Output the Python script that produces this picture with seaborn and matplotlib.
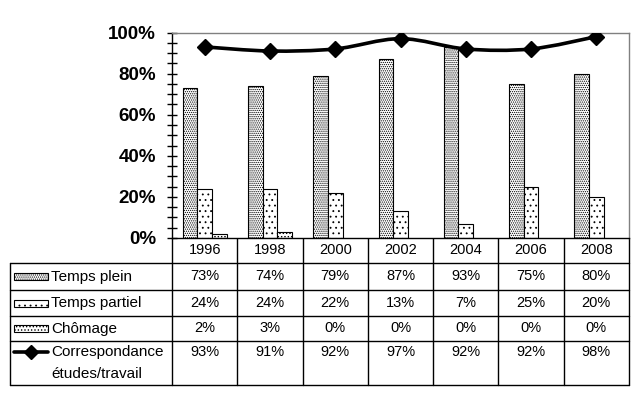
import numpy as np
import pandas as pd
import matplotlib
matplotlib.use("Agg")
import matplotlib.pyplot as plt
from matplotlib.path import Path
from matplotlib.patches import PathPatch, Rectangle
import seaborn as sns

# ============================================================================
# DATA
# ============================================================================

years = ["1996", "1998", "2000", "2002", "2004", "2006", "2008"]
temps_plein = [73, 74, 79, 87, 93, 75, 80]
temps_partiel = [24, 24, 22, 13, 7, 25, 20]
chomage = [2, 3, 0, 0, 0, 0, 0]
correspondance = [93, 91, 92, 97, 92, 92, 98]

series_names = ["Temps plein", "Temps partiel", "Chômage"]
line_name = "Correspondance\nétudes/travail"
hatches = ["........", "...", "....."]

sns.set_theme(style="white")
plt.rcParams["font.family"] = ["Liberation Sans", "DejaVu Sans"]
plt.rcParams["hatch.linewidth"] = 0.6
for key in ["text.color", "axes.labelcolor", "xtick.color", "ytick.color"]:
    plt.rcParams[key] = "black"

df = pd.DataFrame({
    "year": years * 3,
    "serie": [n for n in series_names for _ in years],
    "value": np.array(temps_plein + temps_partiel + chomage) / 100,
})

# ============================================================================
# FIGURE / PLOT AREA
# ============================================================================

W, H = 639, 399
fig = plt.figure(figsize=(W / 100, H / 100), dpi=100)
fig.patch.set_facecolor("white")

x0, x1, y0, y1 = 172, 629, 32.5, 238
ax = fig.add_axes([x0 / W, 1 - y1 / H, (x1 - x0) / W, (y1 - y0) / H])

sns.barplot(
    data=df, x="year", y="value", hue="serie",
    order=years, hue_order=series_names,
    palette=["white"] * 3, width=0.67,
    edgecolor="black", linewidth=0.8,
    legend=False, ax=ax
)

for cont, h in zip(ax.containers, hatches):
    for bar in cont:
        bar.set_hatch(h)
        bar.set_facecolor("white")
        bar.set_edgecolor("black")
        if bar.get_height() == 0:
            bar.set_visible(False)

# smoothed line (bezier through the points, like Excel)
xs = np.arange(len(years), dtype=float)
ys = np.array(correspondance) / 100
px = np.concatenate([[xs[0]], xs, [xs[-1]]])
py = np.concatenate([[ys[0]], ys, [ys[-1]]])
verts = [(xs[0], ys[0])]
codes = [Path.MOVETO]
for i in range(1, len(px) - 2):
    c1 = (px[i] + (px[i + 1] - px[i - 1]) / 6, py[i] + (py[i + 1] - py[i - 1]) / 6)
    c2 = (px[i + 1] - (px[i + 2] - px[i]) / 6, py[i + 1] - (py[i + 2] - py[i]) / 6)
    verts += [c1, c2, (px[i + 1], py[i + 1])]
    codes += [Path.CURVE4] * 3
ax.add_patch(PathPatch(Path(verts, codes), fill=False, lw=2.6, edgecolor="black", zorder=5))
ax.plot(xs, ys, "D", ms=8, color="black", zorder=6)

ax.set_xlim(-0.5, len(years) - 0.5)
ax.set_ylim(0, 1)
ax.set_xlabel("")
ax.set_ylabel("")
ax.set_xticks([])
ax.set_yticks(np.arange(0, 1.01, 0.2))
ax.set_yticks(np.arange(0, 1.01, 0.05), minor=True)
ax.set_yticklabels([f"{int(round(v * 100))}%" for v in np.arange(0, 1.01, 0.2)],
                   fontsize=13.5, fontweight="bold")
ax.tick_params(axis="y", which="both", direction="inout", length=7, width=1,
               color="black", left=True, pad=8)
for s in ["left", "bottom"]:
    ax.spines[s].set_color("black")
    ax.spines[s].set_linewidth(1)
for s in ["top", "right"]:
    ax.spines[s].set_color("#808080")
    ax.spines[s].set_linewidth(1)

# ============================================================================
# DATA TABLE
# ============================================================================

tab = fig.add_axes([0, 0, 1, 1], zorder=-1)
tab.set_xlim(0, W)
tab.set_ylim(H, 0)
tab.axis("off")

tx0 = 10
cw = (x1 - x0) / len(years)
rows = [263, 290, 316, 341, 385]
fs = 10.5
fs_lab = 11

for k in range(len(years) + 1):
    tab.plot([x0 + k * cw] * 2, [y1, rows[-1]], color="black", lw=1)
tab.plot([tx0, tx0], [rows[0], rows[-1]], color="black", lw=1)
for r in rows:
    tab.plot([tx0, x1], [r, r], color="black", lw=1)

for i, yr in enumerate(years):
    tab.text(x0 + (i + 0.5) * cw, (y1 + rows[0]) / 2, yr, ha="center", va="center", fontsize=fs)

values = [temps_plein, temps_partiel, chomage]
for j, (name, vals, h) in enumerate(zip(series_names, values, hatches)):
    yc = (rows[j] + rows[j + 1]) / 2
    for i, v in enumerate(vals):
        tab.text(x0 + (i + 0.5) * cw, yc, f"{v}%", ha="center", va="center", fontsize=fs)
    tab.add_patch(Rectangle((14, yc - 3.5), 34, 7, facecolor="white", edgecolor="black",
                            lw=0.8, hatch=h))
    tab.text(51, yc, name, ha="left", va="center", fontsize=fs_lab)

yl = rows[3] + 11
for i, v in enumerate(correspondance):
    tab.text(x0 + (i + 0.5) * cw, yl, f"{v}%", ha="center", va="center", fontsize=fs)
tab.plot([14, 48], [yl, yl], color="black", lw=2.6)
tab.plot([31], [yl], "D", ms=7, color="black")
tab.text(51, yl, line_name.split("\n")[0], ha="left", va="center", fontsize=fs_lab)
tab.text(51, yl + 22, line_name.split("\n")[1], ha="left", va="center", fontsize=fs_lab)

fig.savefig("out.png", dpi=100)
